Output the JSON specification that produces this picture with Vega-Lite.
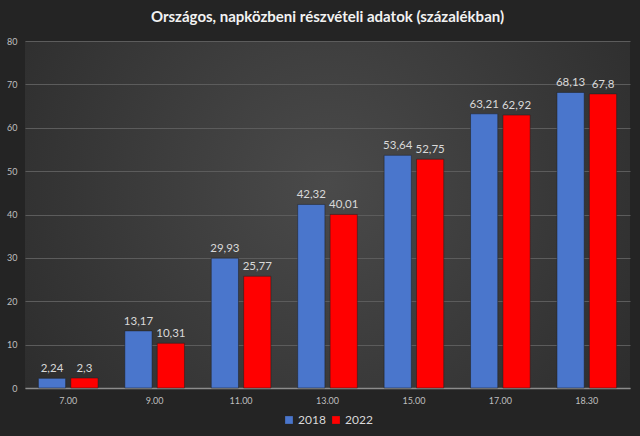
{
  "$schema": "https://vega.github.io/schema/vega-lite/v6.json",
  "width": 640,
  "height": 436,
  "autosize": {"type": "fit", "contains": "padding"},
  "padding": {"left": 6, "right": 10, "top": 10, "bottom": 31},
  "background": "#242424",
  "title": {
    "text": "Országos, napközbeni részvételi adatok (százalékban)",
    "font": "Lato",
    "fontSize": 15,
    "fontWeight": "bold",
    "color": "#f2f2f2",
    "anchor": "middle",
    "offset": 12
  },
  "data": {
    "values": [
      {"time": "7.00", "year": "2018", "value": 2.24},
      {"time": "7.00", "year": "2022", "value": 2.3},
      {"time": "9.00", "year": "2018", "value": 13.17},
      {"time": "9.00", "year": "2022", "value": 10.31},
      {"time": "11.00", "year": "2018", "value": 29.93},
      {"time": "11.00", "year": "2022", "value": 25.77},
      {"time": "13.00", "year": "2018", "value": 42.32},
      {"time": "13.00", "year": "2022", "value": 40.01},
      {"time": "15.00", "year": "2018", "value": 53.64},
      {"time": "15.00", "year": "2022", "value": 52.75},
      {"time": "17.00", "year": "2018", "value": 63.21},
      {"time": "17.00", "year": "2022", "value": 62.92},
      {"time": "18.30", "year": "2018", "value": 68.13},
      {"time": "18.30", "year": "2022", "value": 67.8}
    ]
  },
  "transform": [
    {"calculate": "replace(toString(datum.value), '.', ',')", "as": "label"}
  ],
  "encoding": {
    "x": {
      "field": "time",
      "type": "nominal",
      "sort": null,
      "scale": {"paddingInner": 0.31, "paddingOuter": 0.155},
      "axis": {
        "title": null,
        "labelAngle": 0,
        "ticks": false,
        "domainColor": "#8c8c8c",
        "domainWidth": 1.5,
        "labelColor": "#bfbfbf",
        "labelFont": "Lato",
        "labelFontSize": 9,
        "labelPadding": 8
      }
    },
    "xOffset": {
      "field": "year",
      "type": "nominal",
      "scale": {"paddingInner": 0.16}
    },
    "y": {
      "field": "value",
      "type": "quantitative",
      "scale": {"domain": [0, 80]},
      "axis": {
        "title": null,
        "values": [0, 10, 20, 30, 40, 50, 60, 70, 80],
        "domain": false,
        "ticks": false,
        "gridColor": "#5c5c5c",
        "gridWidth": 1,
        "labelColor": "#bfbfbf",
        "labelFont": "Lato",
        "labelFontSize": 9,
        "labelPadding": 8
      }
    }
  },
  "layer": [
    {
      "mark": {"type": "bar", "stroke": "#1e1e1e", "strokeWidth": 0.5},
      "encoding": {
        "color": {
          "field": "year",
          "type": "nominal",
          "scale": {"domain": ["2018", "2022"], "range": ["#4a76cc", "#ff0000"]},
          "legend": {
            "title": null,
            "orient": "none",
            "legendX": 258,
            "legendY": 373,
            "direction": "horizontal",
            "symbolType": "square",
            "symbolSize": 60,
            "symbolStrokeWidth": 0,
            "labelOffset": 3,
            "labelColor": "#d9d9d9",
            "labelFont": "Lato",
            "labelFontSize": 12,
            "columnPadding": 4
          }
        }
      }
    },
    {
      "mark": {"type": "text", "baseline": "bottom", "dy": -4, "font": "Lato", "fontSize": 11.5, "color": "#d9d9d9"},
      "encoding": {
        "text": {"field": "label", "type": "nominal"}
      }
    }
  ],
  "config": {
    "view": {
      "stroke": null,
      "fill": {
        "gradient": "radial",
        "x1": 0.5, "y1": 0.45, "r1": 0,
        "x2": 0.5, "y2": 0.45, "r2": 0.75,
        "stops": [
          {"offset": 0, "color": "#4a4a4a"},
          {"offset": 1, "color": "#262626"}
        ]
      }
    }
  }
}
